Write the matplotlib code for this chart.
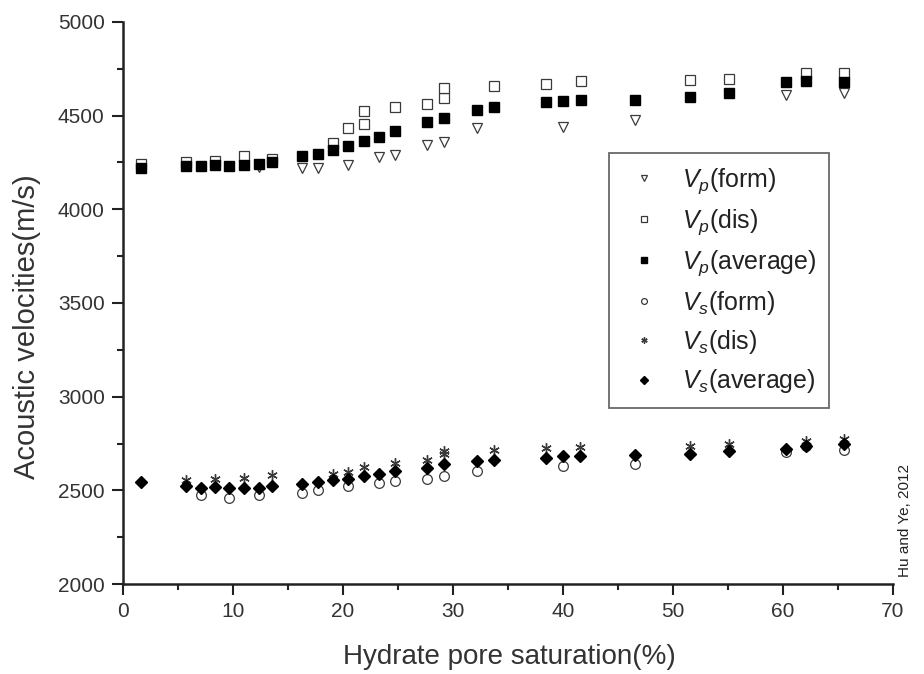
import numpy as np
import matplotlib
matplotlib.use('Agg')
import matplotlib.pyplot as plt
from matplotlib.ticker import MultipleLocator

plt.rcParams['font.family'] = ['Liberation Sans', 'DejaVu Sans']
plt.rcParams['mathtext.fontset'] = 'custom'
plt.rcParams['mathtext.rm'] = 'Liberation Sans'
plt.rcParams['mathtext.it'] = 'Liberation Sans:italic'

# Vp (form) - open down triangles
vp_form_x = [12.4, 16.3, 17.8, 20.45, 23.3, 24.8, 27.7, 29.2, 32.2, 40.05, 46.6, 60.3, 65.6]
vp_form_y = [4225, 4223, 4223, 4234, 4280, 4291, 4344, 4362, 4436, 4441, 4477, 4610, 4622]

# Vp (dis) - open squares
vp_dis_x = [1.7, 5.75, 8.4, 11.0, 13.6, 19.1, 20.45, 21.9, 21.9, 24.8, 27.7, 29.2, 29.2, 33.8,
            38.45, 41.7, 51.6, 55.1, 62.1, 65.6]
vp_dis_y = [4240, 4250, 4258, 4282, 4268, 4356, 4436, 4456, 4525, 4548, 4562, 4592, 4649, 4658,
            4670, 4684, 4692, 4697, 4727, 4727]

# Vp (average) - filled squares
vp_avg_x = [1.7, 5.75, 7.1, 8.4, 9.7, 11.0, 12.4, 13.6, 16.3, 17.8, 19.1, 20.45, 21.9, 23.3,
            24.8, 27.7, 29.2, 32.2, 33.8, 38.45, 40.05, 41.7, 46.6, 51.6, 55.1, 60.3, 62.1, 65.6]
vp_avg_y = [4220, 4232, 4229, 4234, 4232, 4239, 4241, 4252, 4282, 4296, 4315, 4339, 4365, 4388,
            4419, 4468, 4488, 4530, 4548, 4574, 4580, 4583, 4585, 4599, 4619, 4677, 4686, 4681]

# Vs (form) - open circles
vs_form_x = [7.1, 9.7, 12.4, 16.3, 17.8, 20.45, 23.3, 24.8, 27.7, 29.2, 32.2, 40.05, 46.6,
             60.3, 62.1, 65.6]
vs_form_y = [2473, 2459, 2477, 2488, 2504, 2521, 2539, 2548, 2562, 2576, 2601, 2629, 2642,
             2704, 2735, 2713]

# Vs (dis) - asterisks
vs_dis_x = [5.75, 8.4, 11.0, 13.6, 19.1, 20.45, 21.9, 24.8, 27.7, 29.2, 29.2, 33.8, 38.45,
            41.6, 51.6, 55.1, 62.1, 65.6]
vs_dis_y = [2553, 2558, 2567, 2580, 2585, 2597, 2624, 2645, 2663, 2696, 2712, 2713, 2725,
            2730, 2739, 2745, 2762, 2775]

# Vs (average) - filled diamonds
vs_avg_x = [1.7, 5.75, 7.1, 8.4, 9.7, 11.0, 12.4, 13.6, 16.3, 17.8, 19.1, 20.45, 21.9, 23.3,
            24.8, 27.7, 29.2, 32.2, 33.8, 38.45, 40.05, 41.6, 46.6, 51.6, 55.1, 60.3, 62.1, 65.6]
vs_avg_y = [2544, 2521, 2514, 2518, 2511, 2514, 2514, 2521, 2532, 2544, 2553, 2562, 2574, 2589,
            2601, 2619, 2638, 2654, 2660, 2674, 2681, 2683, 2691, 2695, 2709, 2722, 2739, 2748]

fig = plt.figure(figsize=(9.24, 6.74), dpi=100)
ax = fig.add_axes([0.1328, 0.1335, 0.8333, 0.8339])

edge = '#3a3a3a'
ms = 7
ax.plot(vp_form_x, vp_form_y, linestyle='none', marker='v', ms=ms, mfc='white', mec=edge, mew=0.9,
        label=r'$V_p$(form)', zorder=3)
ax.plot(vp_dis_x, vp_dis_y, linestyle='none', marker='s', ms=ms - 0.5, mfc='white', mec=edge, mew=0.9,
        label=r'$V_p$(dis)', zorder=3)
ax.plot(vp_avg_x, vp_avg_y, linestyle='none', marker='s', ms=ms - 0.5, mfc='black', mec='black',
        label=r'$V_p$(average)', zorder=4)
ax.plot(vs_form_x, vs_form_y, linestyle='none', marker='o', ms=ms, mfc='white', mec=edge, mew=0.9,
        label=r'$V_s$(form)', zorder=3)
ax.plot(vs_dis_x, vs_dis_y, linestyle='none', marker=(6, 2, 0), ms=ms + 0.5, mec=edge, mew=1.0,
        label=r'$V_s$(dis)', zorder=3)
ax.plot(vs_avg_x, vs_avg_y, linestyle='none', marker='D', ms=ms - 0.8, mfc='black', mec='black',
        label=r'$V_s$(average)', zorder=4)

ax.set_xlim(0, 70)
ax.set_ylim(2000, 5000)
ax.xaxis.set_major_locator(MultipleLocator(10))
ax.xaxis.set_minor_locator(MultipleLocator(5))
ax.yaxis.set_major_locator(MultipleLocator(500))
ax.yaxis.set_minor_locator(MultipleLocator(250))

for s in ['top', 'right']:
    ax.spines[s].set_visible(False)
for s in ['left', 'bottom']:
    ax.spines[s].set_linewidth(1.8)
    ax.spines[s].set_color('#222222')

ax.tick_params(which='major', direction='out', length=8, width=1.5, color='#222222',
               labelsize=15, labelcolor='#333333', pad=5)
ax.tick_params(which='minor', direction='out', length=4, width=1.5, color='#222222')

# axis titles placed to match the reference
fig.text(0.551, 0.0257, 'Hydrate pore saturation(%)', fontsize=20, color='#333333',
         ha='center', va='center')
fig.text(0.0289, 0.516, 'Acoustic velocities(m/s)', fontsize=21, color='#333333',
         ha='center', va='center', rotation=90)

leg = ax.legend(loc='upper left', bbox_to_anchor=(0.631, 0.766), fontsize=18, markerscale=0.6,
                frameon=True, fancybox=False, edgecolor='#444444', handlelength=1.8,
                handletextpad=0.65, labelspacing=0.45, borderpad=0.5, borderaxespad=0)
leg.get_frame().set_linewidth(1.3)
for t in leg.get_texts():
    t.set_color('#222222')

fig.text(0.979, 0.144, 'Hu and Ye, 2012', rotation=90, fontsize=11, ha='center', va='bottom',
         color='#222222')

plt.savefig('out.png', dpi=100)
